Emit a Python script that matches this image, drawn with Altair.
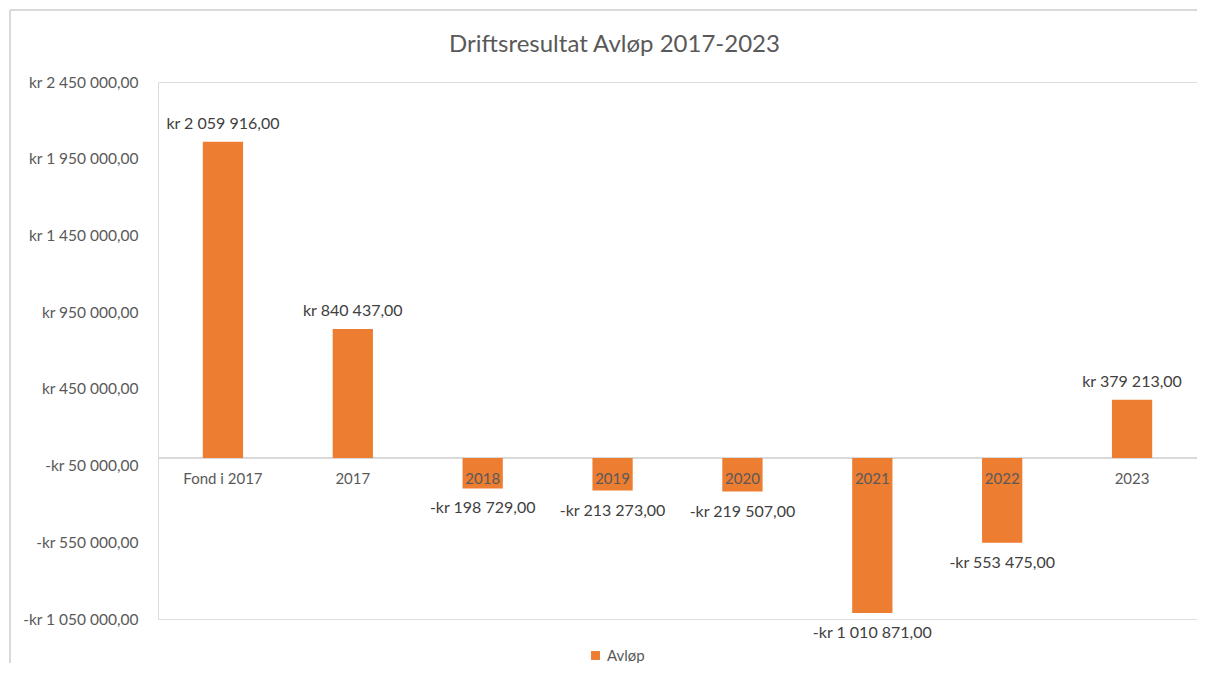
import altair as alt
import pandas as pd

categories = ["Fond i 2017", "2017", "2018", "2019", "2020", "2021", "2022", "2023"]
values = [2059916, 840437, -198729, -213273, -219507, -1010871, -553475, 379213]
series_name = "Avløp"
title_text = "Driftsresultat Avløp 2017-2023"

df = pd.DataFrame({"kategori": categories, "verdi": values, "serie": [series_name] * len(categories)})

FONT = "Lato"
GRAY = "#595959"
ORANGE = "#ED7D31"
GRID = "#d9d9d9"

x_enc = alt.X("kategori:N", sort=categories, axis=None,
              scale=alt.Scale(paddingInner=0.69, paddingOuter=0.345))
y_scale = alt.Scale(domain=[-1050000, 2450000], nice=False, zero=False)

base = alt.Chart(df)

bars = base.mark_bar().encode(
    x=x_enc,
    y=alt.Y("verdi:Q", scale=y_scale, title=None,
            axis=alt.Axis(values=[-1050000, -550000, -50000, 450000, 950000, 1450000, 1950000, 2450000],
                          format="$,.2f", domain=False, ticks=False, labelPadding=20,
                          labelFont=FONT, labelFontSize=15.5, labelColor=GRAY,
                          gridColor=GRID, gridWidth=1)),
    y2=alt.datum(0),
    color=alt.Color("serie:N", scale=alt.Scale(range=[ORANGE]),
                    legend=alt.Legend(title=None, orient="none", legendX=430, legendY=566,
                                      symbolType="square", symbolSize=80, labelFont=FONT,
                                      labelFontSize=15, labelColor=GRAY, symbolStrokeWidth=0)),
)

zero = base.mark_rule(color=GRID, strokeWidth=1.5).encode(y=alt.datum(0))

cat_labels = base.mark_text(font=FONT, fontSize=15, color=GRAY, baseline="middle", dy=21).encode(
    x=x_enc, y=alt.datum(0), text="kategori:N")

pos_labels = base.transform_filter("datum.verdi >= 0").mark_text(
    font=FONT, fontSize=16, color="#404040", baseline="bottom", dy=-10).encode(
    x=x_enc, y=alt.Y("verdi:Q", scale=y_scale), text=alt.Text("verdi:Q", format="$,.2f"))

neg_labels = base.transform_filter("datum.verdi < 0").mark_text(
    font=FONT, fontSize=16, color="#404040", baseline="top", dy=12).encode(
    x=x_enc, y=alt.Y("verdi:Q", scale=y_scale), text=alt.Text("verdi:Q", format="$,.2f"))

# outer chart border (decorative)
border_top = base.mark_rule(color=GRID, strokeWidth=2, clip=False).encode(
    x=alt.value(-148), x2=alt.value(1047), y=alt.value(-72))
border_left = base.mark_rule(color=GRID, strokeWidth=2, clip=False).encode(
    x=alt.value(-148), y=alt.value(-72), y2=alt.value(620))

chart = alt.layer(border_top, border_left, zero, bars, cat_labels, pos_labels, neg_labels).properties(
    width=1039, height=537,
    padding={"left": 150, "top": 74, "right": 0, "bottom": 44},
    autosize=alt.AutoSizeParams(type="none"),
    title=alt.TitleParams(text=title_text, font=FONT, fontSize=24, fontWeight="normal",
                          color=GRAY, anchor="middle", dx=-63, dy=68, offset=20),
).configure_view(stroke=None).configure(
    locale={"number": {"decimal": ",", "thousands": " ", "grouping": [3],
                       "currency": ["kr ", ""], "minus": "-"}}
)

chart.save("out.html", embed_options={"renderer": "svg", "actions": False})
